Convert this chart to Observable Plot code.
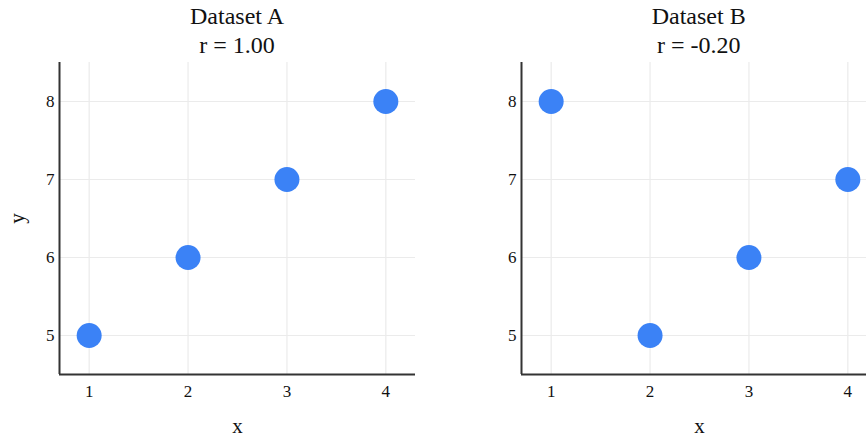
<!DOCTYPE html>
<html>
<head>
<meta charset="utf-8">
<script src="https://cdn.jsdelivr.net/npm/d3@7"></script>
<script src="https://cdn.jsdelivr.net/npm/@observablehq/plot@0.6"></script>
<style>
  html, body { margin: 0; padding: 0; background: #fff; overflow: hidden; width: 866px; height: 437px; }
  #wrap { position: relative; width: 866px; height: 437px; }
  .panel { position: absolute; top: 0; }
  .title { position: absolute; width: 356px; text-align: center; font-family: "Liberation Serif", serif; font-size: 24px; color: #111; line-height: 29px; }
</style>
</head>
<body>
<div id="wrap"></div>
<script>
const xValues = [1, 2, 3, 4];
const yA = [5, 6, 7, 8];
const yB = [8, 5, 6, 7];
const titles = ["Dataset A", "Dataset B"];
const rLabels = ["r = 1.00", "r = -0.20"];
const xTicks = [1, 2, 3, 4];
const yTicks = [5, 6, 7, 8];
const xDomain = [0.7, 4.3];
const yDomain = [4.5, 8.5];

const wrap = document.getElementById("wrap");
const panelLeft = [0, 461.7];

function panel(ys, i) {
  const data = xValues.map((x, k) => ({x, y: ys[k]}));
  const plot = Plot.plot({
    width: 430,
    height: 437,
    marginLeft: 59,
    marginRight: 15,
    marginTop: 62,
    marginBottom: 63,
    style: {fontFamily: "'Liberation Serif', serif", fontSize: "17px", color: "#111", background: "transparent"},
    x: {domain: xDomain},
    y: {domain: yDomain},
    marks: [
      Plot.gridX(xTicks, {stroke: "#ebebeb", strokeOpacity: 1, strokeWidth: 1.2}),
      Plot.gridY(yTicks, {stroke: "#ebebeb", strokeOpacity: 1, strokeWidth: 1.2}),
      Plot.axisX(xTicks, {tickSize: 0, tickPadding: 10, fontSize: 17, tickFormat: "d", label: "x", labelAnchor: "center", labelArrow: "none", labelOffset: 58}),
      Plot.axisY(yTicks, {tickSize: 0, tickPadding: 5, fontSize: 17, tickFormat: "d", label: i === 0 ? "y" : null, labelAnchor: "center", labelArrow: "none", labelOffset: 50}),
      Plot.ruleX([xDomain[0]], {stroke: "#333", strokeWidth: 2}),
      Plot.ruleY([yDomain[0]], {stroke: "#333", strokeWidth: 2}),
      Plot.dot(data, {x: "x", y: "y", r: 12.5, fill: "#3b82f6", stroke: "none"})
    ]
  });
  plot.classList.add("panel");
  plot.style.left = panelLeft[i] + "px";
  plot.querySelectorAll("[aria-label='x-axis label'] text, [aria-label='y-axis label'] text").forEach(t => t.style.fontSize = "21px");
  wrap.appendChild(plot);
  const t = document.createElement("div");
  t.className = "title";
  t.style.left = (panelLeft[i] + 59) + "px";
  t.style.top = "2px";
  t.innerHTML = titles[i] + "<br>" + rLabels[i];
  wrap.appendChild(t);
}
panel(yA, 0);
panel(yB, 1);
</script>
</body>
</html>
